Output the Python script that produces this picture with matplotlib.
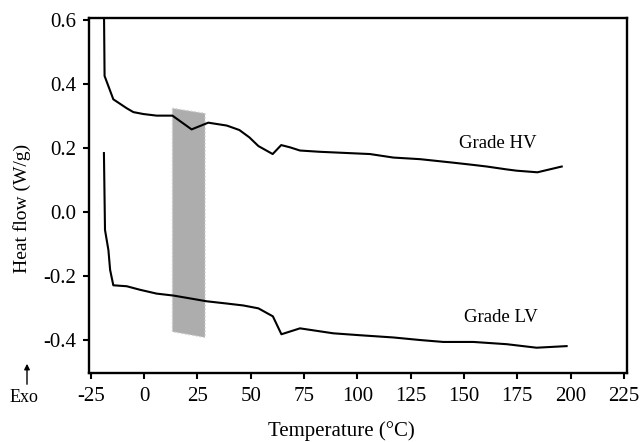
import matplotlib
matplotlib.use("Agg")
import matplotlib.pyplot as plt
from matplotlib.patches import Polygon, FancyArrowPatch

plt.rcParams['font.family'] = ['Liberation Serif', 'DejaVu Serif']
plt.rcParams['axes.unicode_minus'] = False

# Grade HV trace
hv_temp = [-18.8, -18.5, -14.4, -8.1, -5.0, -0.3, 5.9, 13.3, 22.3, 30.1, 38.8, 44.7,
           49.4, 53.6, 60.3, 64.3, 68.4, 73.1, 82.5, 105.9, 116.9, 129.4, 145.0,
           154.4, 160.7, 170.0, 174.7, 184.4, 195.8]
hv_flow = [0.65, 0.426, 0.353, 0.325, 0.313, 0.307, 0.302, 0.302, 0.259, 0.280, 0.271, 0.257,
           0.234, 0.207, 0.182, 0.210, 0.203, 0.193, 0.189, 0.182, 0.171, 0.166, 0.155,
           0.148, 0.143, 0.134, 0.130, 0.125, 0.143]

# Grade LV trace
lv_temp = [-18.8, -18.3, -16.7, -15.9, -14.4, -8.1, -1.9, 5.9, 13.7, 21.6, 29.4, 38.8,
           46.5, 53.6, 60.4, 64.4, 73.1, 88.7, 101.2, 116.9, 129.4, 140.3, 154.4,
           170.0, 184.0, 198.1]
lv_flow = [0.185, -0.055, -0.118, -0.180, -0.228, -0.231, -0.242, -0.254, -0.260, -0.269,
           -0.278, -0.285, -0.291, -0.300, -0.325, -0.381, -0.3625, -0.378, -0.384,
           -0.391, -0.399, -0.405, -0.405, -0.412, -0.423, -0.418]

# Shaded band (temperature range, flow at corners)
band_temp = [13.3, 28.6, 28.6, 13.3]
band_flow = [0.325, 0.309, -0.391, -0.373]

x_ticks = [-25, 0, 25, 50, 75, 100, 125, 150, 175, 200, 225]
y_ticks = [-0.4, -0.2, 0.0, 0.2, 0.4, 0.6]
y_tick_labels = ['-0.4', '-0.2', '0.0', '0.2', '0.4', '0.6']

fig = plt.figure(figsize=(6.43, 4.42), dpi=100)
ax = fig.add_axes([89/643, 69/442, (627-89)/643, (373-18)/442])

ax.add_patch(Polygon(list(zip(band_temp, band_flow)), closed=True, facecolor='#adadad',
                     edgecolor='#cfcfcf', linestyle=':', linewidth=1.0, zorder=1))
ax.plot(hv_temp, hv_flow, color='black', lw=1.5, zorder=3)
ax.plot(lv_temp, lv_flow, color='black', lw=1.5, zorder=3)

ax.text(166, 0.216, 'Grade HV', fontsize=13.5, ha='center', va='center')
ax.text(167.5, -0.33, 'Grade LV', fontsize=13.5, ha='center', va='center')

ax.set_xlim(-25.8, 226.4)
ax.set_ylim(-0.502, 0.607)
ax.set_xticks(x_ticks)
ax.set_xticklabels([str(t) for t in x_ticks])
ax.set_yticks(y_ticks)
ax.set_yticklabels(y_tick_labels)
ax.tick_params(axis='both', direction='out', length=4, width=1.5, labelsize=15,
               top=False, right=False)
ax.tick_params(axis='x', pad=6)
ax.tick_params(axis='y', pad=5)
for s in ax.spines.values():
    s.set_linewidth(1.7)

fig.text(341.5/643, 1 - 431/442, 'Temperature (°C)', fontsize=15, ha='center', va='center')
fig.text(22/643, 1 - 208/442, 'Heat flow (W/g)', fontsize=14, ha='center', va='center',
         rotation=90)

fig.text(24/643, 1 - 397/442, 'Exo', fontsize=13, ha='center', va='center')
fig.add_artist(FancyArrowPatch((27/643, 1 - 387/442), (27/643, 1 - 361/442),
                               transform=fig.transFigure, arrowstyle='-|>',
                               mutation_scale=8, color='black', lw=1.0))

fig.savefig('out.png', dpi=100)
